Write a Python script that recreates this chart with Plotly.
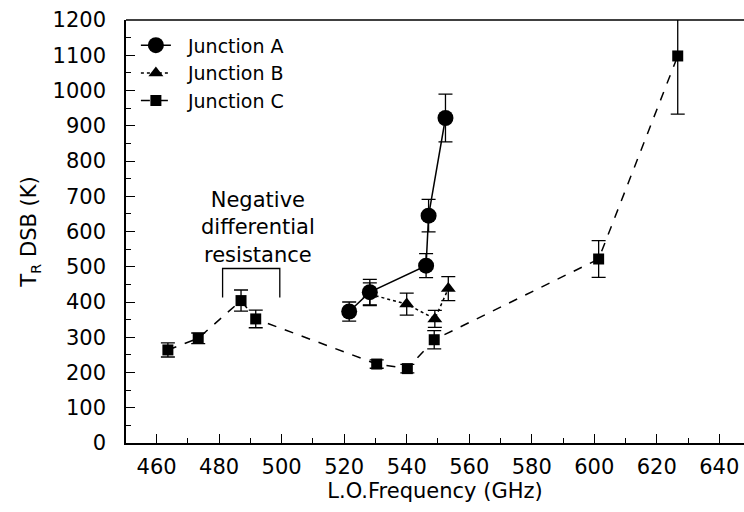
import plotly.graph_objects as go

# Junction A
freq_a = [521.6, 528.2, 546.2, 547.0, 552.4]
temp_a = [373, 428, 503, 645, 922]
err_a = [27, 36, 34, 46, 68]

# Junction B
freq_b = [528.2, 540.0, 549.0, 553.3]
temp_b = [422, 394, 352, 438]
err_b = [32, 31, 24, 34]

# Junction C
freq_c = [463.6, 473.3, 487.0, 491.7, 530.4, 540.2, 548.8, 601.4, 626.7]
temp_c = [264, 297, 404, 352, 224, 211, 293, 522, 1098]
err_c = [20, 15, 30, 25, 12, 12, 26, 52, 165]

names = ["Junction A", "Junction B", "Junction C"]
x_ticks = [460, 480, 500, 520, 540, 560, 580, 600, 620, 640]
y_ticks = list(range(0, 1201, 100))

FONT = "DejaVu Sans"
NBSP = "\u00a0"
fig = go.Figure()

def add(name, x, y, e, sym, size, dash):
    fig.add_trace(go.Scatter(
        x=x, y=y, name=NBSP * 2 + name, mode="lines+markers",
        line=dict(color="black", width=1.5, dash=dash),
        marker=dict(symbol=sym, size=size, color="black"),
        error_y=dict(type="data", array=e, visible=True, color="black",
                     thickness=1.3, width=7),
    ))

add(names[0], freq_a, temp_a, err_a, "circle", 16, "solid")
add(names[1], freq_b, temp_b, err_b, "triangle-up", 13, "dot")
add(names[2], freq_c, temp_c, err_c, "square", 11, "dash")

# top frame line (plot is cropped on the right, no right frame)
fig.add_shape(type="line", xref="paper", yref="paper", x0=0, x1=1, y0=1, y1=1,
              line=dict(color="black", width=1.5))

# bracket for annotation
fig.add_shape(type="path", path="M 481.1,413 L 481.1,495 L 499.4,495 L 499.4,413",
              line=dict(color="black", width=1.3), xref="x", yref="y")
fig.add_annotation(x=492.4, y=612, xref="x", yref="y", showarrow=False,
                   text="Negative<br>differential<br>resistance",
                   font=dict(family=FONT, size=21, color="black"), align="center")

fig.update_layout(
    width=744, height=512,
    margin=dict(l=126, r=0, t=20, b=69),
    paper_bgcolor="white", plot_bgcolor="white",
    font=dict(family=FONT, size=21, color="black"),
    showlegend=True,
    legend=dict(x=0.016, y=0.985, xanchor="left", yanchor="top",
                bgcolor="rgba(0,0,0,0)", font=dict(size=19),
                itemwidth=30, tracegroupgap=0),
    xaxis=dict(range=[450.2, 647.9], tickvals=x_ticks, ticks="inside", ticklen=9,
               tickwidth=1.3, tickcolor="black", showline=True, linecolor="black",
               linewidth=1.5, showgrid=False, zeroline=False,
               ticklabelstandoff=4, automargin=False,
               minor=dict(dtick=10, ticks="inside", ticklen=5, tickcolor="black", tickwidth=1.2),
               title=dict(text="L.O.Frequency (GHz)", font=dict(size=21), standoff=4)),
    yaxis=dict(range=[0, 1200], tickvals=y_ticks, ticks="inside", ticklen=9,
               tickwidth=1.3, tickcolor="black", showline=True, linecolor="black",
               linewidth=1.5, showgrid=False, zeroline=False,
               ticklabelstandoff=14, automargin=False,
               minor=dict(dtick=50, ticks="inside", ticklen=5, tickcolor="black", tickwidth=1.2),
               title=dict(text="T<sub>R</sub> DSB (K)", font=dict(size=21), standoff=10)),
)

fig.write_html("out.html", config={"displayModeBar": False},
               post_script="document.body.style.margin='0';document.body.style.overflow='hidden';")
